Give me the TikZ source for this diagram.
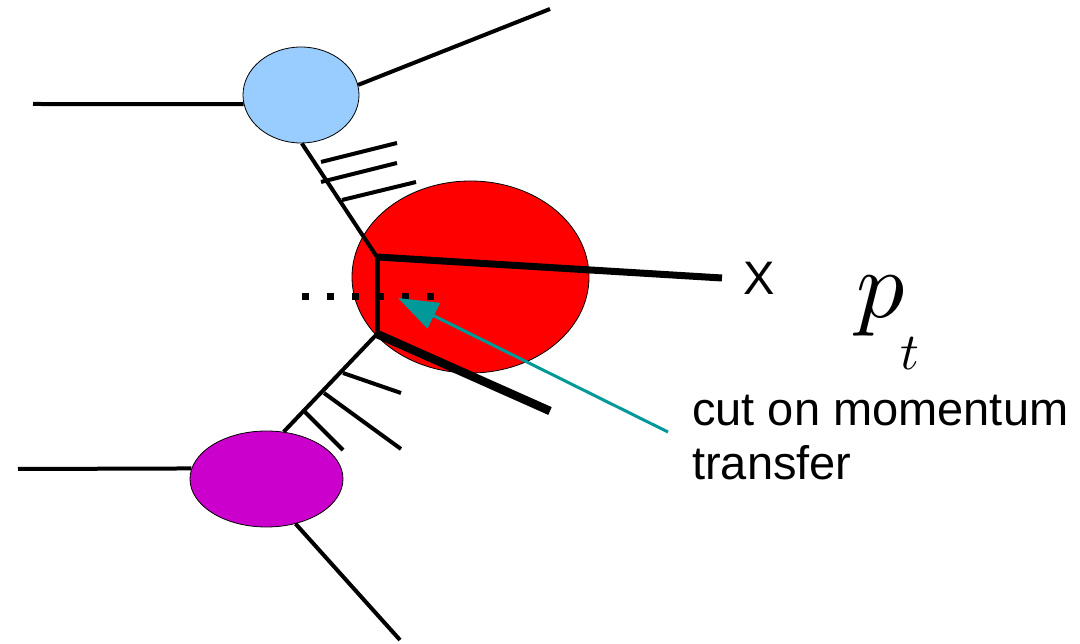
\documentclass[tikz,border=0pt]{standalone}
\usepackage{fontspec}
\setmainfont{Liberation Sans}
\usetikzlibrary{shapes.geometric,arrows.meta}
\definecolor{blobblue}{HTML}{99CCFF}
\definecolor{blobred}{HTML}{FF0000}
\definecolor{blobpurple}{HTML}{CC00CC}
\definecolor{cutteal}{HTML}{009999}
\begin{document}
\begin{tikzpicture}[x=1pt,y=-1pt,
  blob/.style={ellipse, draw=black, line width=0.8pt, inner sep=0pt},
  leg/.style={line width=4pt, line cap=butt},
  rung/.style={line width=4pt},
  cutline/.style={line width=7pt, dash pattern=on 7pt off 18pt},
  pointer/.style={cutteal, line width=3pt, -{Triangle[length=40pt,width=28pt]}},
  label/.style={inner sep=0pt, anchor=base west, font=\fontsize{47}{54}\selectfont}
]
\useasboundingbox (0,0) rectangle (1080,644);

% blobs
\node[blob, fill=blobblue, minimum width=116pt, minimum height=96pt] (blue) at (301,95) {};
\node[blob, fill=blobred, minimum width=237pt, minimum height=192pt] (red) at (470.5,277) {};
\node[blob, fill=blobpurple, minimum width=153pt, minimum height=96pt] (purple) at (266.5,479) {};

% free ends and vertices
\coordinate (tl) at (33,104);
\coordinate (tr) at (550,9);
\coordinate (bl) at (18,469);
\coordinate (br) at (400,640);
\coordinate (v1) at (377,257);
\coordinate (v2) at (377,334);
\coordinate (xend) at (722,278);
\coordinate (lend) at (550,411);

% outer legs
\draw[leg] (tl) -- (blue.189);
\draw[leg] (blue.10) -- (tr);
\draw[leg] (bl) -- (purple.172.5);
\draw[leg] (purple.-57) -- (br);

% t-channel legs
\draw[leg] (blue.-89) -- (v1);
\draw[leg] (v2) -- (purple.70.7);

% rungs (top)
\coordinate (r1s) at (321,162); \coordinate (r1e) at (397,143);
\coordinate (r2s) at (321,182); \coordinate (r2e) at (397,163);
\coordinate (r3s) at (342,200); \coordinate (r3e) at (416,182);
\draw[rung] (r1s) -- (r1e);
\draw[rung] (r2s) -- (r2e);
\draw[rung] (r3s) -- (r3e);

% rungs (bottom)
\coordinate (s1s) at (343,373); \coordinate (s1e) at (401,393);
\coordinate (s2s) at (324,393); \coordinate (s2e) at (401,449);
\coordinate (s3s) at (305,412); \coordinate (s3e) at (343,450);
\draw[rung] (s1s) -- (s1e);
\draw[rung] (s2s) -- (s2e);
\draw[rung] (s3s) -- (s3e);

% central vertex lines
\draw[line width=7pt] (v1) -- (xend);
\draw[line width=5pt, line cap=rect] (v1) -- (v2);
\draw[line width=8.5pt] (v2) -- (lend);

% cut
\coordinate (c1) at (302,297);
\coordinate (c2) at (436,297);
\draw[cutline] (c1) -- (c2);

% labels
\node[label] (xlab) at (743,295) {X};
\node[inner sep=0pt, anchor=base west] (pt) at (856,318)
  {\scalebox{9.6}{$p$}\kern-4pt\raisebox{-52pt}{\scalebox{5.2}{$t$}}};
\node[label, align=left] (cut) at (692,479) {cut on momentum\\transfer};

% pointer
\coordinate (tail) at (668,432);
\coordinate (tip) at (398,298);
\draw[pointer] (tail) -- (tip);
\end{tikzpicture}
\end{document}
